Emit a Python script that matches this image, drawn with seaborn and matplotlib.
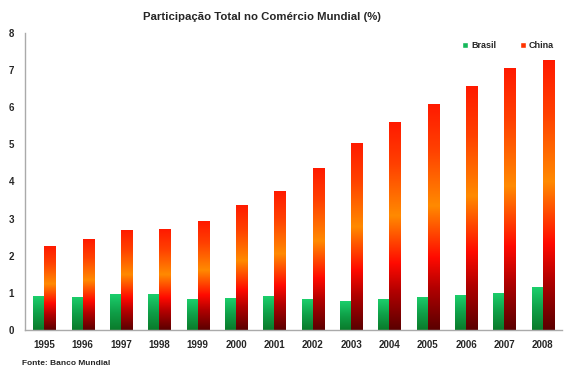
import matplotlib
matplotlib.use('Agg')
import matplotlib.pyplot as plt
import seaborn as sns
import pandas as pd
import numpy as np
from matplotlib.colors import LinearSegmentedColormap
from matplotlib.patches import Patch

# data
years = ['1995', '1996', '1997', '1998', '1999', '2000', '2001',
         '2002', '2003', '2004', '2005', '2006', '2007', '2008']
brasil = [0.91, 0.89, 0.96, 0.96, 0.82, 0.86, 0.91,
          0.82, 0.78, 0.82, 0.89, 0.93, 1.00, 1.15]
china = [2.26, 2.45, 2.70, 2.72, 2.92, 3.37, 3.73,
         4.35, 5.04, 5.60, 6.08, 6.57, 7.05, 7.27]
series = ['Brasil', 'China']

df = pd.DataFrame({'Ano': years * 2,
                   'Serie': ['Brasil'] * len(years) + ['China'] * len(years),
                   'Valor': brasil + china})

sns.set_style('white')
plt.rcParams['font.family'] = ['Liberation Sans Narrow', 'Liberation Sans', 'DejaVu Sans']

fig = plt.figure(figsize=(5.71, 3.74), dpi=100)
ax = fig.add_axes([0.044, 0.118, 0.940, 0.794])

sns.barplot(data=df, x='Ano', y='Valor', hue='Serie', hue_order=series,
            palette=['#00b050', '#ff3300'], width=0.58, gap=0,
            saturation=1, ax=ax, legend=False, linewidth=0)

# gradient fills: bottom -> top
cmap_green = LinearSegmentedColormap.from_list(
    'g', [(0, '#0a7a2a'), (0.5, '#0fa048'), (1, '#1ccf6c')])
cmap_red = LinearSegmentedColormap.from_list(
    'r', [(0, '#5a0000'), (0.18, '#b00000'), (0.32, '#ff0a00'),
          (0.55, '#ff8a00'), (0.8, '#ff4000'), (1, '#ff1a00')])

grad = np.linspace(0, 1, 256).reshape(-1, 1)
n = len(years)
for i, p in enumerate(ax.patches[:2 * n]):
    x0, y0 = p.get_x(), p.get_y()
    w, h = p.get_width(), p.get_height()
    cm = cmap_green if i < n else cmap_red
    p.set_facecolor('none')
    im = ax.imshow(grad, cmap=cm, origin='lower', aspect='auto',
                   extent=[x0, x0 + w, y0, y0 + h], zorder=2)
    im.set_clip_path(p)

ax.set_xlim(-0.5, n - 0.5)
ax.set_ylim(0, 8)
ax.set_yticks(range(0, 9))
ax.set_xlabel('')
ax.set_ylabel('')

# x ticks between categories, labels centered
ax.set_xticks(np.arange(-0.5, n, 1.0))
ax.set_xticklabels([])
ax.set_xticks(np.arange(n), minor=True)
ax.set_xticklabels(years, minor=True, fontsize=7, fontweight='bold')
ax.tick_params(axis='x', which='minor', length=0, pad=7)
ax.tick_params(axis='x', which='major', length=3, color='#999999', direction='out')
ax.tick_params(axis='y', labelsize=7, length=3, color='#999999', direction='out', pad=5)
for lab in ax.get_yticklabels():
    lab.set_fontweight('bold')

for s in ['top', 'right']:
    ax.spines[s].set_visible(False)
for s in ['left', 'bottom']:
    ax.spines[s].set_color('#aaaaaa')
    ax.spines[s].set_linewidth(1.0)

fig.suptitle('Participação Total no Comércio Mundial (%)', fontsize=8.2,
             fontweight='bold', x=0.458, y=0.967)

handles = [Patch(facecolor='#14b85a'), Patch(facecolor='#ff3300')]
ax.legend(handles, series, loc='upper right', bbox_to_anchor=(1.0, 1.0), ncol=2,
          frameon=False, prop={'size': 6.5, 'weight': 'bold'},
          handlelength=0.7, handleheight=0.7,
          handletextpad=0.3, columnspacing=2.6)

fig.text(0.038, 0.025, 'Fonte: Banco Mundial', fontsize=6, fontweight='bold')

fig.savefig('out.png', dpi=100)
